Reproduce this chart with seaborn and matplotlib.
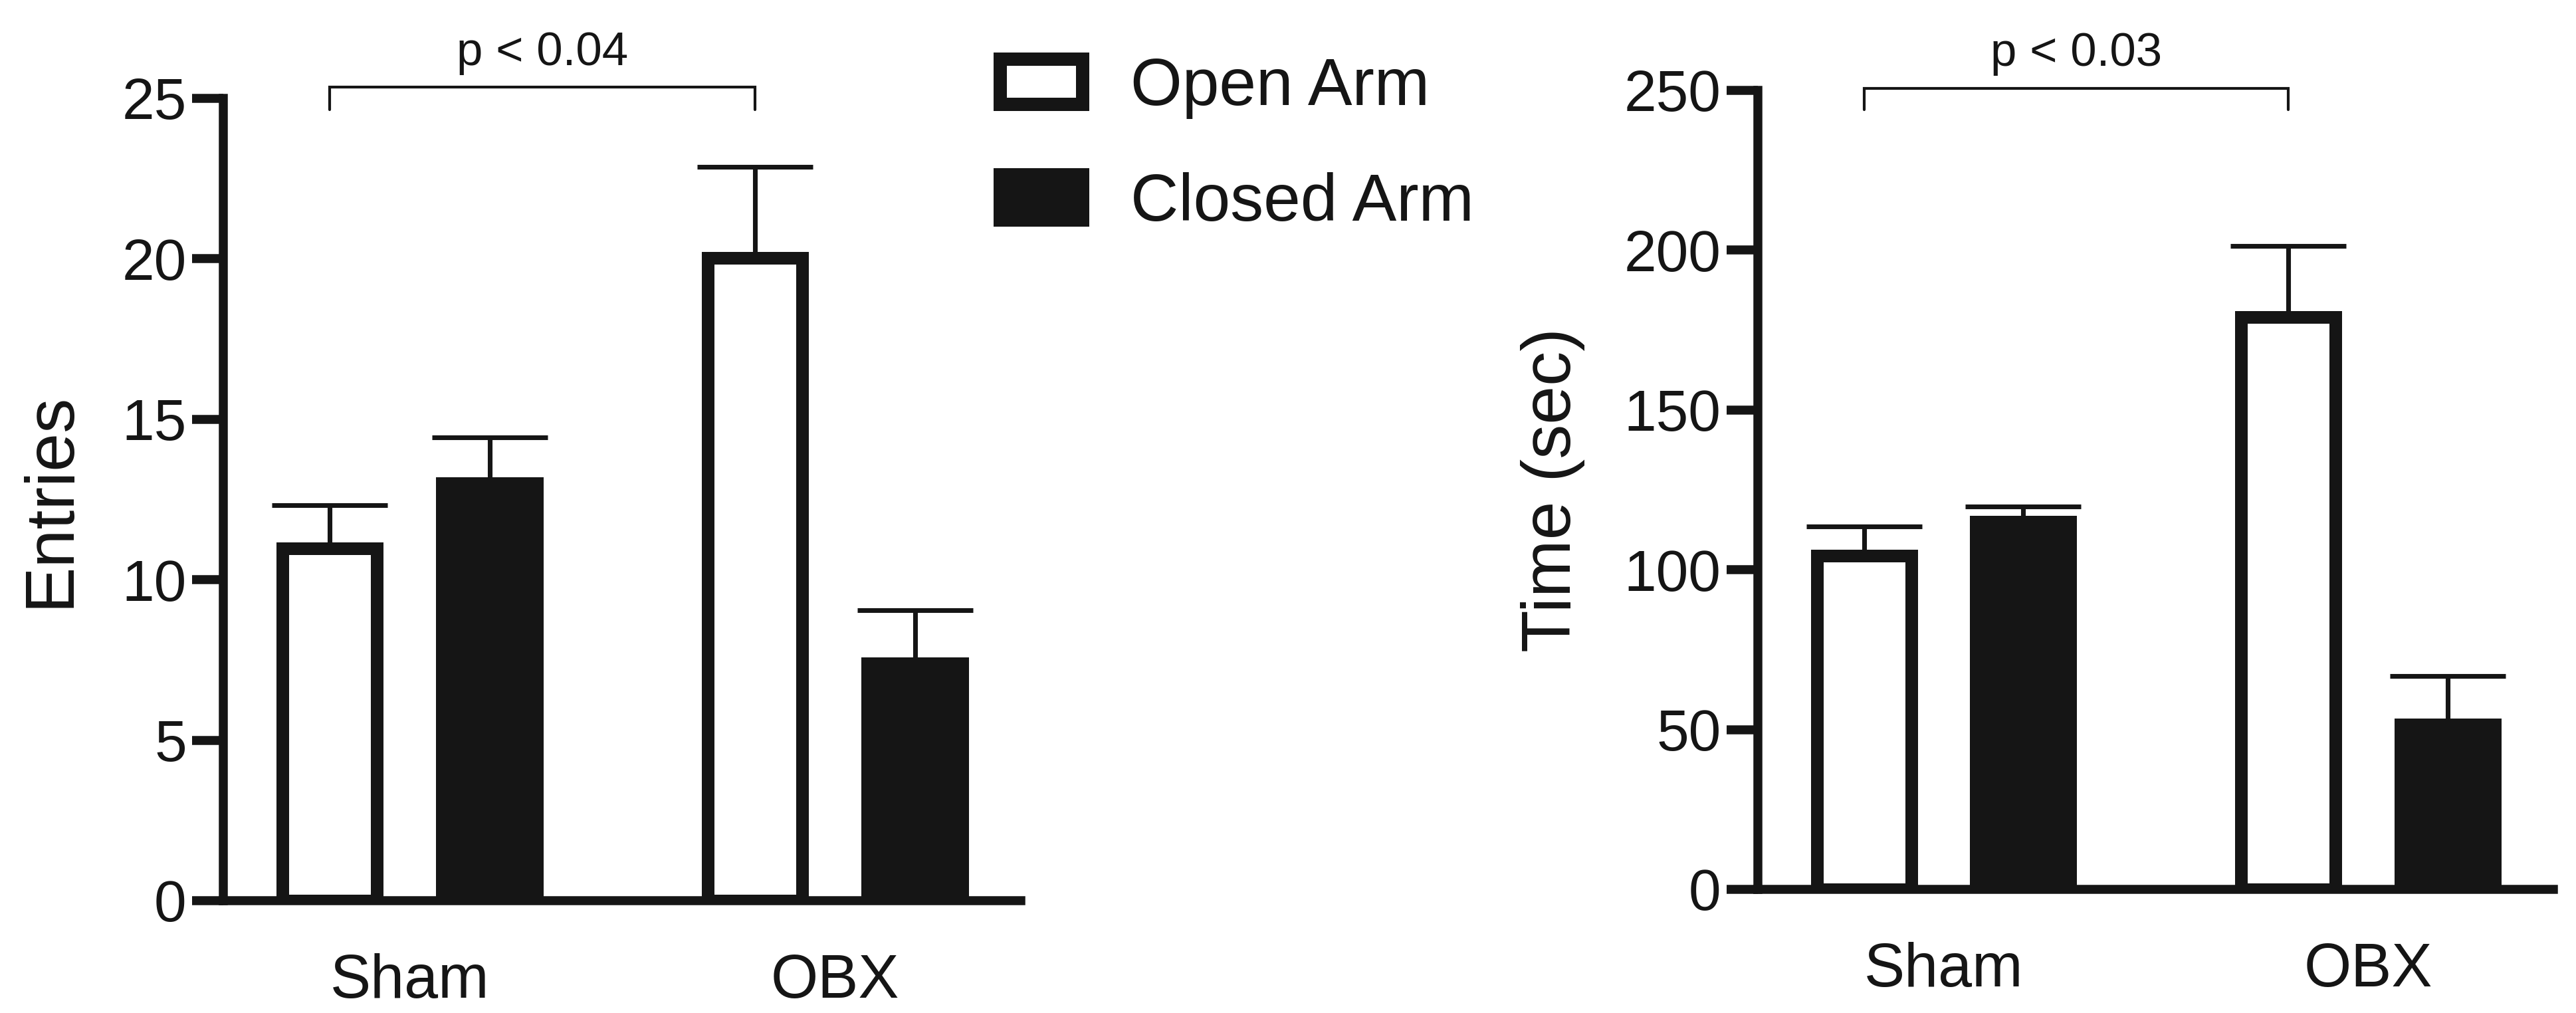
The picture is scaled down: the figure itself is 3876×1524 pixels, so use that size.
import matplotlib
matplotlib.use("Agg")
import matplotlib.pyplot as plt
import pandas as pd
import seaborn as sns
from matplotlib.patches import Patch

# ── Data ─────────────────────────────────────────────────
groups = ["Sham", "OBX"]
arms = ["Open Arm", "Closed Arm"]

entries_open = [10.97, 20.02]
entries_closed = [13.0, 7.4]
entries_open_sem = [1.36, 2.85]
entries_closed_sem = [1.44, 1.65]

time_open = [104.3, 179.0]
time_closed = [115.0, 51.6]
time_open_sem = [9.3, 22.3]
time_closed_sem = [4.8, 15.1]

entries_yticks = [0, 5, 10, 15, 20, 25]
time_yticks = [0, 50, 100, 150, 200, 250]

# ── Style ────────────────────────────────────────────────
INK = "#151515"
sns.set_style("ticks")
plt.rcParams["font.family"] = ["Liberation Sans", "DejaVu Sans"]
plt.rcParams["text.color"] = INK
plt.rcParams["axes.labelcolor"] = INK
plt.rcParams["xtick.color"] = INK
plt.rcParams["ytick.color"] = INK


def long_df(open_vals, closed_vals, open_sem, closed_sem):
    rows = []
    for g, v, s in zip(groups, open_vals, open_sem):
        rows.append({"group": g, "arm": "Open Arm", "value": v, "sem": s})
    for g, v, s in zip(groups, closed_vals, closed_sem):
        rows.append({"group": g, "arm": "Closed Arm", "value": v, "sem": s})
    return pd.DataFrame(rows)


def panel(ax, df, yticks, ylabel, ptext, bracket_y, tip_y, text_y):
    sns.barplot(data=df, x="group", y="value", hue="arm",
                order=groups, hue_order=arms,
                palette={"Open Arm": "white", "Closed Arm": INK},
                width=0.751, gap=0.408, edgecolor=INK, linewidth=4.56,
                errorbar=None, legend=False, ax=ax, zorder=3)

    # upward-only SEM bars at the bar centres
    bars = sorted(ax.patches, key=lambda p: p.get_x())
    lookup = {(r.group, r.arm): r.sem for r in df.itertuples()}
    order = [(g, a) for g in groups for a in arms]
    xs = [b.get_x() + b.get_width() / 2 for b in bars]
    ys = [b.get_height() for b in bars]
    sems = [lookup[k] for k in order]
    _, caps, _ = ax.errorbar(xs, ys, yerr=[[0] * len(sems), sems], fmt="none",
                             ecolor=INK, elinewidth=1.7, capsize=20.9,
                             capthick=1.7, zorder=2)
    # drop the caps sitting on the bar tops (lower error is zero)
    for c in caps:
        if list(c.get_ydata()) == ys:
            c.remove()

    # significance bracket between the two open-arm bars
    x0, x1 = xs[0], xs[2]
    ax.plot([x0, x0, x1, x1], [tip_y, bracket_y, bracket_y, tip_y],
            color=INK, lw=1.0, clip_on=False, solid_joinstyle="miter")
    ax.text((x0 + x1) / 2, text_y, ptext, ha="center", va="bottom",
            fontsize=17, clip_on=False)

    ax.set_xlim(-0.438, 1.437)
    ax.set_ylim(yticks[0], yticks[-1])
    ax.set_yticks(yticks)
    ax.set_xlabel("")
    ax.set_ylabel(ylabel, fontsize=25, labelpad=14)
    sns.despine(ax=ax)
    for s in ["left", "bottom"]:
        ax.spines[s].set_linewidth(3.24)
        ax.spines[s].set_color(INK)
    ax.tick_params(axis="y", length=11.3, width=3.24, labelsize=21, pad=2)
    ax.tick_params(axis="x", length=0, labelsize=22, pad=19)


fig = plt.figure(figsize=(12.92, 5.08), dpi=300)
ax1 = fig.add_axes([0.0867, 0.1109, 0.3096, 0.7920])
ax2 = fig.add_axes([0.6824, 0.1221, 0.3088, 0.7887])

panel(ax1, long_df(entries_open, entries_closed, entries_open_sem, entries_closed_sem),
      entries_yticks, "Entries", "p < 0.04", 25.35, 24.65, 25.72)
panel(ax2, long_df(time_open, time_closed, time_open_sem, time_closed_sem),
      time_yticks, "Time (sec)", "p < 0.03", 250.6, 244.0, 254.5)

handles = [Patch(facecolor="white", edgecolor=INK, linewidth=4.8, label="Open Arm"),
           Patch(facecolor=INK, edgecolor=INK, linewidth=4.8, label="Closed Arm")]
fig.legend(handles=handles, loc="upper left",
           bbox_to_anchor=(1505 / 3876, 1 - 85 / 1524),
           frameon=False, fontsize=24, handlelength=1.24, handleheight=0.68,
           handletextpad=0.72, labelspacing=0.8, borderpad=0, borderaxespad=0)

fig.savefig("out.png", dpi=300, facecolor="white")
